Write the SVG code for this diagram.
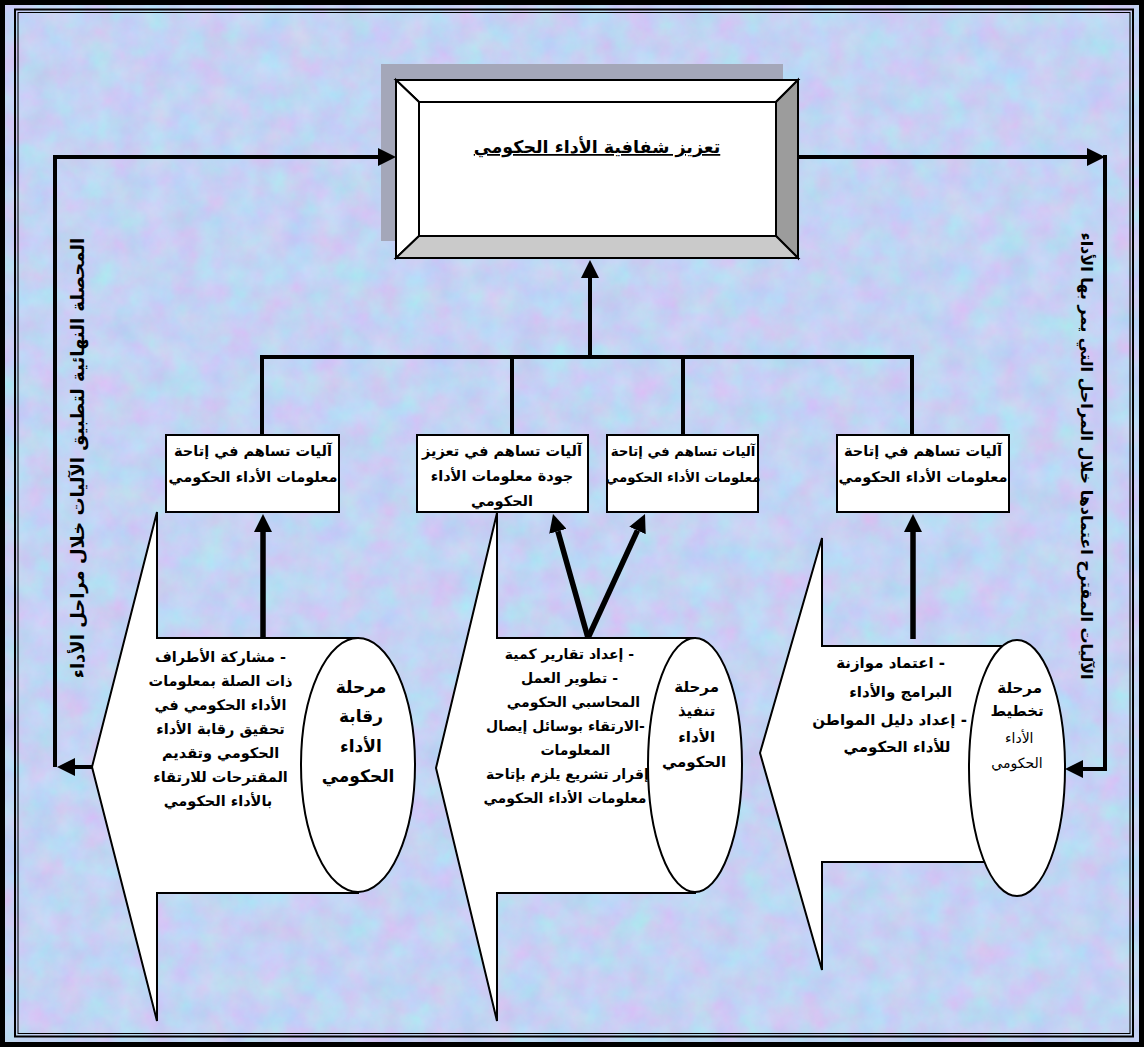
<svg xmlns="http://www.w3.org/2000/svg" width="1144" height="1047" viewBox="0 0 1144 1047">
  <defs>
    <!-- pastel marbled paper background -->
    <filter id="marble" x="0" y="0" width="100%" height="100%" color-interpolation-filters="sRGB">
      <feTurbulence type="fractalNoise" baseFrequency="0.035" numOctaves="5" seed="7" result="n"/>
      <feColorMatrix in="n" type="matrix" values="0.20 -0.05 0 0 0.69  -0.09 0.14 0 0 0.80  0 0 0.06 0 0.925  0 0 0 0 1"/>
    </filter>
    <marker id="head" viewBox="0 -9 18 18" markerWidth="18" markerHeight="18" refX="0" refY="0" orient="auto" markerUnits="userSpaceOnUse">
      <path d="M0,-9 L18,0 L0,9 z" fill="#000"/>
    </marker>
    <style>
      .t { font-family: "DejaVu Sans", sans-serif; font-weight: bold; fill: #000; direction: rtl; text-anchor: middle; }
      .box { fill: #fff; stroke: #000; stroke-width: 2; }
      .shape { fill: #fff; stroke: #000; stroke-width: 2; stroke-linejoin: miter; }
      .conn { fill: none; stroke: #000; stroke-width: 4; stroke-linejoin: miter; }
      .thick { fill: none; stroke: #000; stroke-width: 5.5; }
    </style>
  </defs>

  <!-- background -->
  <rect x="0" y="0" width="1144" height="1047" fill="#c6d5f3"/>
  <rect x="0" y="0" width="1144" height="1047" filter="url(#marble)"/>

  <!-- page frame -->
  <rect x="2.5" y="2.5" width="1139" height="1042" fill="none" stroke="#000" stroke-width="5"/>
  <rect x="15" y="9.5" width="1118" height="1027" fill="none" stroke="#000" stroke-width="2"/>
  <rect x="18" y="12.5" width="1112" height="1021" fill="none" stroke="#000" stroke-width="1"/>

  <!-- side labels -->
  <text class="t" font-size="18" transform="translate(84,458) rotate(-90)">المحصلة النهائية لتطبيق الآليات خلال مراحل الأداء</text>
  <text class="t" font-size="16" transform="translate(1081,456) rotate(90)">الآليات المقترح اعتمادها خلال المراحل التي يمر بها الأداء</text>

  <!-- title box with bevel -->
  <g id="title">
    <rect x="381" y="64" width="402" height="177" fill="#a4a7b9"/>
    <polygon points="396,80 798,80 776,102 419,102" fill="#fff" stroke="#000" stroke-width="2"/>
    <polygon points="396,80 419,102 419,236 396,258" fill="#fff" stroke="#000" stroke-width="2"/>
    <polygon points="798,80 798,258 776,236 776,102" fill="#9c9c9c" stroke="#000" stroke-width="2"/>
    <polygon points="396,258 419,236 776,236 798,258" fill="#cacaca" stroke="#000" stroke-width="2"/>
    <rect x="419" y="102" width="357" height="134" fill="#fff" stroke="#000" stroke-width="2"/>
    <text class="t" x="597" y="153" font-size="17.5" text-decoration="underline">تعزيز شفافية الأداء الحكومي</text>
  </g>

  <!-- connectors -->
  <g id="connectors">
    <!-- outer feedback loops -->
    <path class="conn" d="M55,767 V157 H378" marker-end="url(#head)"/>
    <path class="conn" d="M92,767 H75" marker-end="url(#head)"/>
    <path class="conn" d="M798,157 H1087" marker-end="url(#head)"/>
    <path class="conn" d="M1105,155 V769 H1083" marker-end="url(#head)"/>
    <!-- tree into the title box -->
    <path class="conn" d="M590,359 V278" marker-end="url(#head)"/>
    <path class="conn" d="M260,357 H914"/>
    <path class="conn" d="M262,355 V435"/>
    <path class="conn" d="M512,355 V435"/>
    <path class="conn" d="M683,355 V435"/>
    <path class="conn" d="M912,355 V435"/>
    <!-- stage outputs up to the mechanism boxes -->
    <path class="thick" d="M263,638 V532" marker-end="url(#head)"/>
    <path class="thick" d="M588,638 L557.9,531.3" marker-end="url(#head)"/>
    <path class="thick" d="M588,638 L637.5,530.4" marker-end="url(#head)"/>
    <path class="thick" d="M913,639 V532" marker-end="url(#head)"/>
  </g>

  <!-- mechanism boxes -->
  <g id="box-monitoring">
    <rect class="box" x="166" y="435" width="173" height="77"/>
    <text class="t" x="253" y="456" font-size="14.5">آليات تساهم في إتاحة</text>
    <text class="t" x="253" y="482" font-size="14.5">معلومات الأداء الحكومي</text>
  </g>
  <g id="box-quality">
    <rect class="box" x="417" y="435" width="171" height="77"/>
    <text class="t" x="502" y="456" font-size="14.5">آليات تساهم في تعزيز</text>
    <text class="t" x="502" y="481" font-size="14.5">جودة معلومات الأداء</text>
    <text class="t" x="502" y="506" font-size="14.5">الحكومي</text>
  </g>
  <g id="box-execution">
    <rect class="box" x="607" y="435" width="151" height="77"/>
    <text class="t" x="683" y="456" font-size="13.3">آليات تساهم في إتاحة</text>
    <text class="t" x="683" y="482" font-size="13.3">معلومات الأداء الحكومي</text>
  </g>
  <g id="box-planning">
    <rect class="box" x="837" y="435" width="172" height="77"/>
    <text class="t" x="923" y="456" font-size="14.5">آليات تساهم في إتاحة</text>
    <text class="t" x="923" y="482" font-size="14.5">معلومات الأداء الحكومي</text>
  </g>

  <!-- stage: monitoring -->
  <g id="stage-monitoring">
    <polygon class="shape" points="92,767 157,512 157,638 358,638 358,893 157,893 157,1021"/>
    <text class="t" font-size="14.5">
      <tspan x="218" y="662">- مشاركة الأطراف</tspan>
      <tspan x="218" y="686">ذات الصلة بمعلومات</tspan>
      <tspan x="218" y="710">الأداء  الحكومي في</tspan>
      <tspan x="218" y="734">تحقيق رقابة الأداء</tspan>
      <tspan x="218" y="758">الحكومي وتقديم</tspan>
      <tspan x="218" y="782">المقترحات للارتقاء</tspan>
      <tspan x="218" y="806">بالأداء الحكومي</tspan>
    </text>
    <ellipse class="shape" cx="358" cy="765" rx="57" ry="127"/>
    <text class="t" font-size="17">
      <tspan x="358" y="693">مرحلة</tspan>
      <tspan x="358" y="722">رقابة</tspan>
      <tspan x="358" y="752">الأداء</tspan>
      <tspan x="358" y="782">الحكومي</tspan>
    </text>
  </g>

  <!-- stage: execution -->
  <g id="stage-execution">
    <polygon class="shape" points="436,768 497,513 497,638 695,638 695,893 497,893 497,1021"/>
    <text class="t" font-size="14">
      <tspan x="567" y="659">- إعداد تقارير كمية</tspan>
      <tspan x="567" y="683">- تطوير العمل</tspan>
      <tspan x="571" y="707">المحاسبي الحكومي</tspan>
      <tspan x="563" y="731">-الارتقاء بوسائل إيصال</tspan>
      <tspan x="573" y="755">المعلومات</tspan>
      <tspan x="565" y="779">إقرار تشريع يلزم بإتاحة</tspan>
      <tspan x="565" y="803">معلومات الأداء الحكومي</tspan>
    </text>
    <ellipse class="shape" cx="695" cy="765" rx="47" ry="127"/>
    <text class="t" font-size="15">
      <tspan x="694" y="692">مرحلة</tspan>
      <tspan x="694" y="716">تنفيذ</tspan>
      <tspan x="694" y="742">الأداء</tspan>
      <tspan x="694" y="767">الحكومي</tspan>
    </text>
  </g>

  <!-- stage: planning -->
  <g id="stage-planning">
    <polygon class="shape" points="760,753 822,538 822,646 1017,646 1017,862 822,862 822,970"/>
    <text class="t" font-size="15">
      <tspan x="888" y="668">- اعتماد موازنة</tspan>
      <tspan x="898" y="697">البرامج والأداء</tspan>
      <tspan x="887" y="725">- إعداد دليل المواطن</tspan>
      <tspan x="897" y="752">للأداء الحكومي</tspan>
    </text>
    <ellipse class="shape" cx="1017" cy="768" rx="48" ry="128"/>
    <text class="t" font-size="15">
      <tspan x="1017" y="693">مرحلة</tspan>
      <tspan x="1017" y="716">تخطيط</tspan>
    </text>
    <text class="t" font-size="14" style="font-weight:normal">
      <tspan x="1017" y="743">الأداء</tspan>
      <tspan x="1017" y="768">الحكومي</tspan>
    </text>
  </g>
</svg>
